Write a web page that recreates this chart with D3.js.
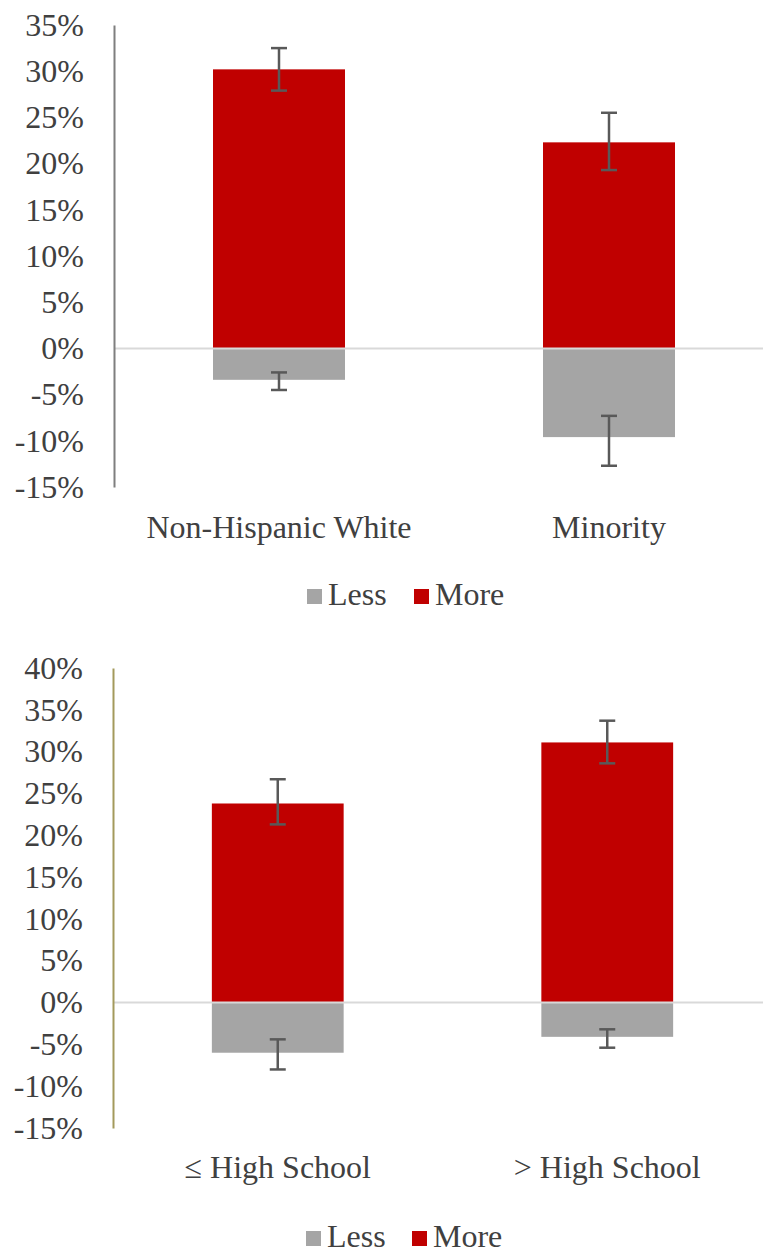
<!DOCTYPE html>
<html>
<head>
<meta charset="utf-8">
<script src="https://cdn.jsdelivr.net/npm/d3@7"></script>
<style>
  html, body { margin: 0; padding: 0; background: #fff; }
  svg { display: block; }
</style>
</head>
<body>
<svg id="chart" width="763" height="1258"></svg>
<script>
// ---------- data ----------
const seriesNames = ["Less", "More"];
const seriesColors = ["#A5A5A5", "#C00000"];

// Panel 1: race/ethnicity
const raceCategories = ["Non-Hispanic White", "Minority"];
const raceLess = [-3.4, -9.6];
const raceLessLow = [-4.5, -12.7];
const raceLessHigh = [-2.6, -7.3];
const raceMore = [30.2, 22.3];
const raceMoreLow = [27.9, 19.3];
const raceMoreHigh = [32.5, 25.5];
const raceTicks = [-15, -10, -5, 0, 5, 10, 15, 20, 25, 30, 35];

// Panel 2: education
const eduCategories = ["\u2264 High School", "> High School"];
const eduLess = [-6.0, -4.1];
const eduLessLow = [-8.0, -5.4];
const eduLessHigh = [-4.4, -3.2];
const eduMore = [23.8, 31.1];
const eduMoreLow = [21.3, 28.6];
const eduMoreHigh = [26.7, 33.7];
const eduTicks = [-15, -10, -5, 0, 5, 10, 15, 20, 25, 30, 35, 40];

// ---------- drawing ----------
const FONT = "Liberation Serif";
const TEXT_COLOR = "#404040";
const svg = d3.select("#chart");

function styleText(sel) {
  sel.style("font-family", FONT)
     .style("font-size", "32px")
     .style("fill", TEXT_COLOR);
}

function drawPanel(opt) {
  const g = svg.append("g");
  const x = d3.scaleBand()
    .domain(opt.categories)
    .range([opt.left, opt.right])
    .paddingInner(0.6)
    .paddingOuter(0.3);
  const y = d3.scaleLinear()
    .domain([d3.min(opt.ticks), d3.max(opt.ticks)])
    .range([opt.bottom, opt.top]);

  const series = [
    { name: seriesNames[0], color: seriesColors[0], vals: opt.less, lo: opt.lessLow, hi: opt.lessHigh },
    { name: seriesNames[1], color: seriesColors[1], vals: opt.more, lo: opt.moreLow, hi: opt.moreHigh }
  ];

  // bars
  series.forEach(s => {
    g.selectAll(null)
      .data(opt.categories.map((c, i) => ({ c, v: s.vals[i] })))
      .enter().append("rect")
      .attr("x", d => x(d.c))
      .attr("width", x.bandwidth())
      .attr("y", d => y(Math.max(0, d.v)))
      .attr("height", d => Math.abs(y(d.v) - y(0)))
      .attr("fill", s.color);
  });

  // zero line
  g.append("line")
    .attr("x1", opt.left).attr("x2", opt.right)
    .attr("y1", y(0)).attr("y2", y(0))
    .attr("stroke", "#D9D9D9").attr("stroke-width", 2);

  // error bars
  const capW = 8;
  series.forEach(s => {
    const eb = g.selectAll(null)
      .data(opt.categories.map((c, i) => ({ c, lo: s.lo[i], hi: s.hi[i] })))
      .enter().append("g")
      .attr("stroke", "#595959").attr("stroke-width", 2.5);
    const cx = d => x(d.c) + x.bandwidth() / 2;
    eb.append("line").attr("x1", cx).attr("x2", cx)
      .attr("y1", d => y(d.lo)).attr("y2", d => y(d.hi));
    eb.append("line").attr("x1", d => cx(d) - capW).attr("x2", d => cx(d) + capW)
      .attr("y1", d => y(d.lo)).attr("y2", d => y(d.lo));
    eb.append("line").attr("x1", d => cx(d) - capW).attr("x2", d => cx(d) + capW)
      .attr("y1", d => y(d.hi)).attr("y2", d => y(d.hi));
  });

  // y axis
  const yAxis = d3.axisLeft(y)
    .tickValues(opt.ticks)
    .tickSize(0)
    .tickPadding(30)
    .tickFormat(d => d + "%");
  const ya = g.append("g")
    .attr("transform", `translate(${opt.left},0)`)
    .call(yAxis);
  ya.select(".domain").attr("stroke", opt.axisColor).attr("stroke-width", 2);
  ya.selectAll("text").call(styleText);

  // x axis labels
  const xAxis = d3.axisBottom(x).tickSize(0).tickPadding(0);
  const xa = g.append("g")
    .attr("transform", `translate(0,${opt.labelY})`)
    .call(xAxis);
  xa.select(".domain").remove();
  xa.selectAll("text")
    .attr("dy", 0)
    .attr("y", 0)
    .call(styleText);

  // legend
  const lg = g.append("g");
  const items = [
    { name: seriesNames[0], color: seriesColors[0], x: opt.legendX[0] },
    { name: seriesNames[1], color: seriesColors[1], x: opt.legendX[1] }
  ];
  items.forEach(it => {
    lg.append("rect")
      .attr("x", it.x).attr("y", opt.legendY - 16)
      .attr("width", 15).attr("height", 15)
      .attr("fill", it.color);
    lg.append("text")
      .attr("x", it.x + 21).attr("y", opt.legendY)
      .text(it.name)
      .call(styleText);
  });
}

drawPanel({
  categories: raceCategories,
  less: raceLess, lessLow: raceLessLow, lessHigh: raceLessHigh,
  more: raceMore, moreLow: raceMoreLow, moreHigh: raceMoreHigh,
  ticks: raceTicks,
  left: 114, right: 774, top: 25, bottom: 487,
  axisColor: "#7F7F7F",
  labelY: 538,
  legendX: [307, 414], legendY: 605
});

drawPanel({
  categories: eduCategories,
  less: eduLess, lessLow: eduLessLow, lessHigh: eduLessHigh,
  more: eduMore, moreLow: eduMoreLow, moreHigh: eduMoreHigh,
  ticks: eduTicks,
  left: 113, right: 772, top: 668, bottom: 1128,
  axisColor: "#A39A5C",
  labelY: 1178,
  legendX: [306, 412], legendY: 1247
});
</script>
</body>
</html>
